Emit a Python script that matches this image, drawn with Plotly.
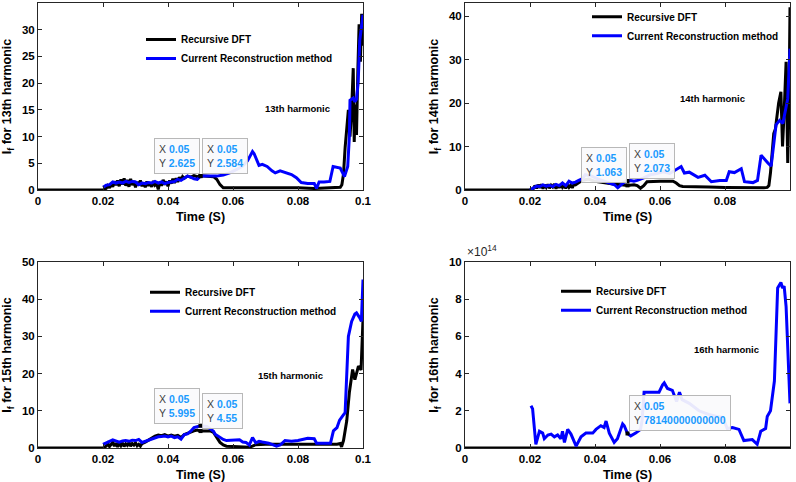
import plotly.graph_objects as go

# ---------------- DATA ----------------
# 13th harmonic
t13_rdft = [0, 0.02, 0.021, 0.0215, 0.022, 0.0225, 0.023, 0.0235, 0.024, 0.0245, 0.025, 0.0255, 0.026, 0.0265,
            0.027, 0.0275, 0.028, 0.0285, 0.029, 0.0295, 0.03, 0.0305, 0.031, 0.0315, 0.032, 0.0325, 0.033, 0.0335,
            0.034, 0.0345, 0.035, 0.0355, 0.036, 0.0365, 0.037, 0.0375, 0.038, 0.0385, 0.039, 0.0395, 0.04, 0.0405,
            0.041, 0.0415, 0.042, 0.0425, 0.043, 0.0435, 0.044, 0.0445, 0.045, 0.046, 0.047, 0.048, 0.049, 0.05,
            0.051, 0.052, 0.053, 0.054, 0.055, 0.056, 0.057, 0.058, 0.06, 0.065, 0.07, 0.075, 0.08, 0.085, 0.09,
            0.092, 0.093, 0.0935, 0.094, 0.0945, 0.095, 0.0955, 0.096, 0.0965, 0.097, 0.0973, 0.0976, 0.098,
            0.0984, 0.0988, 0.0992, 0.0996, 0.1]
v13_rdft = [0, 0, 0.3, 0.8, 0.4, 1.2, 0.6, 1.6, 0.9, 1.8, 0.7, 2.0, 1.0, 2.2,
            0.8, 1.9, 0.6, 2.1, 0.9, 1.7, 0.5, 1.5, 0.9, 1.8, 0.7, 1.4, 0.5, 1.6,
            0.8, 1.3, 0.6, 1.7, 0.9, 1.2, 0.1, 1.5, 0.8, 1.9, 1.0, 1.6, 0.7, 1.8,
            1.2, 2.1, 1.3, 2.2, 1.5, 2.4, 1.8, 2.5, 2.2, 2.6, 2.4, 2.7, 2.5, 2.625,
            2.6, 2.6, 2.6, 2.5, 2.0, 1.0, 0.4, 0.4, 0.5, 0.5, 0.4, 0.5, 0.4, 0.3, 0.4,
            0.4, 0.5, 1.0, 3, 8, 12, 15, 10, 15, 22.8, 9, 16, 10.3,
            22, 31, 24, 33, 27]
t13_crm = [0.02, 0.021, 0.022, 0.023, 0.024, 0.025, 0.026, 0.027, 0.028, 0.029, 0.03, 0.031, 0.032, 0.033,
           0.034, 0.035, 0.036, 0.037, 0.038, 0.039, 0.04, 0.041, 0.042, 0.043, 0.044, 0.045, 0.046, 0.047,
           0.048, 0.049, 0.05, 0.051, 0.053, 0.055, 0.057, 0.059, 0.061, 0.063, 0.0645, 0.066, 0.0665, 0.068,
           0.069, 0.0705, 0.072, 0.073, 0.0745, 0.076, 0.078, 0.0795, 0.081, 0.083, 0.085, 0.0857, 0.0865,
           0.088, 0.0898, 0.0908, 0.092, 0.093, 0.0943, 0.0953, 0.0958, 0.096, 0.097, 0.0975, 0.098, 0.0985,
           0.099, 0.0995, 0.1]
v13_crm = [0.5, 0.9, 1.0, 1.5, 1.3, 1.5, 1.3, 1.6, 1.4, 1.6, 1.5, 1.0, 1.3, 1.2,
           1.4, 1.3, 1.6, 1.3, 1.5, 1.2, 1.4, 1.5, 1.6, 2.0, 1.8, 2.2, 2.6, 2.4,
           2.1, 2.0, 2.584, 2.6, 2.6, 2.6, 2.8, 3.2, 3.8, 4.5, 5.5, 7.2, 6.8, 4.6,
           4.8, 4.4, 3.6, 3.2, 3.6, 3.3, 2.9, 2.3, 1.4, 1.2, 1.2, 0.3, 1.5,
           1.5, 1.6, 4.4, 4.2, 4.1, 2.5, 4.4, 10, 16.8, 17.2, 16.5, 17, 20,
           28, 30, 32.8]

# 14th harmonic
t14_rdft = [0, 0.02, 0.021, 0.0215, 0.022, 0.0225, 0.023, 0.0235, 0.024, 0.0245, 0.025, 0.0255, 0.026, 0.0265,
            0.027, 0.0275, 0.028, 0.0285, 0.029, 0.0295, 0.03, 0.0305, 0.031, 0.0315, 0.032, 0.0325, 0.033, 0.0335,
            0.034, 0.035, 0.036, 0.038, 0.04, 0.042, 0.044, 0.046, 0.048, 0.05, 0.052, 0.053, 0.054, 0.055, 0.056,
            0.058, 0.06, 0.062, 0.064, 0.065, 0.066, 0.067, 0.07, 0.075, 0.08, 0.085, 0.09, 0.092, 0.093, 0.0935,
            0.094, 0.0945, 0.095, 0.0955, 0.0958, 0.0965, 0.0972, 0.0977, 0.0982, 0.0988, 0.0993, 0.0997, 0.1]
v14_rdft = [0, 0, 0.3, 1.0, 0.4, 1.2, 0.5, 1.3, 0.3, 1.2, 0.6, 1.3, 0.4, 1.1,
            0.7, 1.4, 0.3, 1.2, 0.5, 1.3, 0.6, 1.0, 0.4, 1.2, 0.6, 1.1, 0.5, 1.3,
            1.2, 1.8, 2.2, 2.5, 2.0, 1.8, 1.5, 1.3, 1.2, 1.063, 1.2, 1.0, 0.4, 1.0, 1.9,
            2.0, 2.0, 2.0, 2.0, 1.6, 1.0, 0.8, 0.8, 0.7, 0.6, 0.5, 0.5, 0.5, 0.6, 1.0,
            4, 9, 13, 14, 16, 20, 22.6, 10, 18, 29.5, 6.2, 20, 42]
t14_crm = [0.02, 0.021, 0.022, 0.023, 0.024, 0.025, 0.026, 0.027, 0.028, 0.029, 0.03, 0.031, 0.032, 0.033,
           0.034, 0.035, 0.0362, 0.037, 0.039, 0.041, 0.043, 0.045, 0.046, 0.047, 0.048, 0.049, 0.05, 0.051,
           0.052, 0.053, 0.055, 0.057, 0.059, 0.061, 0.063, 0.0649, 0.0665, 0.0675, 0.069, 0.0717, 0.0738,
           0.0758, 0.0784, 0.0804, 0.0813, 0.0829, 0.085, 0.086, 0.0886, 0.09, 0.0911, 0.0932, 0.0942, 0.0957,
           0.0968, 0.0978, 0.0993, 0.1]
v14_crm = [0, 0.5, 0.9, 0.8, 1.2, 0.9, 1.1, 0.8, 1.3, 1.0, 1.6, 1.0, 2.0, 1.6,
           1.8, 2.2, 2.6, 3.5, 3.2, 2.5, 2.0, 1.5, 1.2, 0.5, 1.2, 1.8, 2.073, 2.2,
           2.0, 2.2, 2.8, 3.5, 3.8, 4.2, 3.8, 4.6, 5.4, 3.9, 4.1, 2.9, 3.4,
           1.9, 2.2, 2.2, 4.2, 4.0, 4.9, 1.9, 1.7, 2.2, 8.0, 6.2, 5.5, 15,
           16, 15.3, 21, 32.5]

# 15th harmonic
t15_rdft = [0, 0.02, 0.021, 0.0215, 0.022, 0.0225, 0.023, 0.0235, 0.024, 0.0245, 0.025, 0.0255, 0.026, 0.0265,
            0.027, 0.0275, 0.028, 0.0285, 0.029, 0.0295, 0.03, 0.0305, 0.031, 0.0315, 0.032, 0.033, 0.034, 0.035,
            0.036, 0.037, 0.038, 0.039, 0.04, 0.041, 0.042, 0.043, 0.044, 0.045, 0.046, 0.047, 0.048, 0.049, 0.05,
            0.051, 0.052, 0.053, 0.054, 0.055, 0.056, 0.057, 0.058, 0.06, 0.062, 0.064, 0.065, 0.066, 0.067, 0.07,
            0.075, 0.08, 0.085, 0.09, 0.092, 0.093, 0.0934, 0.094, 0.095, 0.0958, 0.0968, 0.0975, 0.0986, 0.0994, 0.1]
v15_rdft = [0, 0, 0.5, 1.2, 0.4, 1.0, 1.5, 0.5, 1.3, 0.3, 1.2, 0.6, 1.4, 0.4,
            1.1, 0.7, 1.5, 0.5, 1.2, 0.8, 1.4, 0.6, 1.0, 0.5, 1.2, 1.6, 2.2, 2.8,
            3.2, 3.5, 3.3, 3.6, 3.2, 3.5, 3.2, 3.4, 2.8, 3.6, 4.0, 4.3, 4.6, 4.8, 4.55,
            4.6, 4.5, 4.6, 4.2, 3.0, 1.5, 0.8, 0.5, 0.4, 0.4, 0.3, 0.2, 0.5, 0.9, 1.0,
            1.0, 0.9, 1.0, 1.0, 1.0, 1.2, 0.3, 2, 7.3, 14.9, 21.1, 18.4, 22, 21, 34.6]
t15_crm = [0.02, 0.021, 0.022, 0.023, 0.024, 0.025, 0.026, 0.027, 0.028, 0.029, 0.03, 0.031, 0.032, 0.033,
           0.034, 0.035, 0.036, 0.037, 0.038, 0.039, 0.04, 0.041, 0.042, 0.043, 0.044, 0.045, 0.046, 0.047,
           0.048, 0.049, 0.05, 0.052, 0.054, 0.0545, 0.056, 0.057, 0.058, 0.06, 0.062, 0.063, 0.064, 0.065,
           0.066, 0.067, 0.068, 0.069, 0.071, 0.0734, 0.0745, 0.076, 0.078, 0.08, 0.082, 0.083, 0.085, 0.0857,
           0.09, 0.0909, 0.092, 0.0928, 0.0938, 0.0945, 0.0955, 0.0965, 0.0975, 0.098, 0.099, 0.0995, 0.1]
v15_crm = [1.0, 1.5, 1.8, 2.2, 2.0, 1.6, 1.9, 2.0, 1.8, 2.1, 2.0, 2.3, 1.5, 1.8,
           2.3, 2.6, 2.9, 3.0, 3.1, 3.2, 3.0, 3.2, 2.8, 3.0, 2.4, 3.6, 3.8, 4.5,
           5.5, 5.8, 5.995, 5.8, 4.5, 3.7, 2.8, 2.3, 2.0, 2.1, 2.2, 1.6, 1.5, 0.8,
           2.8, 1.4, 1.8, 1.6, 1.3, 0.5, 0.8, 2.0, 1.8, 2.0, 2.3, 2.6, 2.5, 1.3,
           1.3, 4.6, 5.5, 7.5, 8.7, 9.5, 30, 34, 36, 36.3, 35, 34, 45.3]

# 16th harmonic (values in units of 1e14)
t16_rdft = [0, 0.02, 0.05, 0.1]
v16_rdft = [0, 0, 0, 0]
t16_crm = [0.0203, 0.0208, 0.0218, 0.0229, 0.0239, 0.0244, 0.0255, 0.0265, 0.0275, 0.0285, 0.0295, 0.03,
           0.0306, 0.0316, 0.0326, 0.0342, 0.0357, 0.0372, 0.0393, 0.0403, 0.0418, 0.0428, 0.0434, 0.0444,
           0.0459, 0.0469, 0.0485, 0.049, 0.05, 0.051, 0.0525, 0.054, 0.0545, 0.0551, 0.0577, 0.0597, 0.0608,
           0.0613, 0.0623, 0.0638, 0.0651, 0.066, 0.0668, 0.069, 0.072, 0.075, 0.0775, 0.0793, 0.0807, 0.0823,
           0.0843, 0.0858, 0.0884, 0.0899, 0.091, 0.0925, 0.093, 0.094, 0.0952, 0.0962, 0.0972, 0.0977, 0.0982,
           0.0988, 0.1]
v16_crm = [2.27, 2.1, 0.2, 0.9, 0.8, 0.5, 0.7, 0.75, 0.6, 0.7, 0.5, 0.9,
           0.3, 1.0, 0.75, 0.1, 0.6, 0.8, 0.8, 1.0, 1.2, 1.1, 1.45, 0.8,
           0.3, 0.5, 1.3, 1.2, 0.7814, 0.65, 0.8, 1.0, 1.5, 3.0, 3.0, 3.0, 3.4,
           3.5, 3.2, 3.1, 2.5, 3.0, 2.6, 2.4, 2.0, 1.8, 1.7, 1.65, 1.05, 1.1,
           1.0, 0.4, 0.45, 0.2, 0.9, 1.05, 1.7, 2.0, 3.6, 8.6, 8.9, 8.6, 8.7,
           7.6, 2.4]

harmonic_labels = ["13th harmonic", "14th harmonic", "15th harmonic", "16th harmonic"]
y_titles = ["I<sub>f</sub> for 13th harmonic", "I<sub>f</sub> for 14th harmonic",
            "I<sub>f</sub> for 15th harmonic", "I<sub>f</sub> for 16th harmonic"]
y_ranges = [[0, 35], [0, 43], [0, 50], [0, 10]]
y_dticks = [5, 10, 10, 2]
x_ticks = [0, 0.02, 0.04, 0.06, 0.08, 0.1]
x_ticklabels = ["0", "0.02", "0.04", "0.06", "0.08", "0.1"]

# datatips: (panel, y value, shown label, side of the point the box sits on)
tip_x = 0.05
tips = [
    (0, 2.625, "2.625", "left"), (0, 2.584, "2.584", "right"),
    (1, 1.063, "1.063", "left"), (1, 2.073, "2.073", "right"),
    (2, 5.995, "5.995", "left"), (2, 4.55, "4.55", "right"),
    (3, 0.7814, "78140000000000", "right"),
]

series = [
    (t13_rdft, v13_rdft, t13_crm, v13_crm),
    (t14_rdft, v14_rdft, t14_crm, v14_crm),
    (t15_rdft, v15_rdft, t15_crm, v15_crm),
    (t16_rdft, v16_rdft, t16_crm, v16_crm),
]

# ---------------- LAYOUT ----------------
W, H = 796, 482
FONT = "Liberation Sans, Arial, Helvetica, sans-serif"
AX = "#262626"

x_domains = [[38 / W, 363 / W], [465 / W, 790 / W], [38 / W, 363 / W], [465 / W, 790 / W]]
y_domains = [[1 - 190 / H, 1 - 3 / H], [1 - 190 / H, 1 - 3 / H], [1 - 448 / H, 1 - 262 / H], [1 - 448 / H, 1 - 262 / H]]
legend_pos = [(141, 49), (587, 26.3), (145, 301.8), (556, 300.7)]
label_pos = [(0.0798, 15.3), (0.0763, 21.1), (0.0778, 19.6), (0.0805, 5.3)]

fig = go.Figure()

for i, (tb, vb, tc, vc) in enumerate(series):
    xa = "x" if i == 0 else f"x{i+1}"
    ya = "y" if i == 0 else f"y{i+1}"
    lg = "legend" if i == 0 else f"legend{i+1}"
    fig.add_trace(go.Scatter(x=tb, y=vb, mode="lines", name="Recursive DFT",
                             line=dict(color="#000000", width=3), xaxis=xa, yaxis=ya, legend=lg))
    fig.add_trace(go.Scatter(x=tc, y=vc, mode="lines", name="Current Reconstruction method",
                             line=dict(color="#0000ff", width=3), xaxis=xa, yaxis=ya, legend=lg))

# datatip points
for (p, yv, txt, side) in tips:
    xa = "x" if p == 0 else f"x{p+1}"
    ya = "y" if p == 0 else f"y{p+1}"
    fig.add_trace(go.Scatter(x=[tip_x], y=[yv], mode="markers", showlegend=False,
                             marker=dict(color="#000000", size=4, symbol="square"),
                             xaxis=xa, yaxis=ya))

layout = dict(
    width=W, height=H,
    margin=dict(l=0, r=0, t=0, b=0),
    paper_bgcolor="white", plot_bgcolor="white",
    font=dict(family=FONT, color="#000000"),
    showlegend=True,
)

for i in range(4):
    xk = "xaxis" if i == 0 else f"xaxis{i+1}"
    yk = "yaxis" if i == 0 else f"yaxis{i+1}"
    ya = "y" if i == 0 else f"y{i+1}"
    xa = "x" if i == 0 else f"x{i+1}"
    layout[xk] = dict(
        domain=x_domains[i], anchor=ya, range=[0, 0.1],
        tickvals=x_ticks, ticktext=x_ticklabels,
        ticks="inside", ticklen=4, tickwidth=1, tickcolor=AX,
        showline=True, linecolor=AX, linewidth=1, mirror="ticks",
        showgrid=False, zeroline=False, automargin=False,
        tickfont=dict(family=FONT, size=11.5, color="#000000", weight="bold"),
        title=dict(text="Time (S)", font=dict(family=FONT, size=12.5, color="#000000", weight="bold"), standoff=6),
    )
    layout[yk] = dict(
        domain=y_domains[i], anchor=xa, range=y_ranges[i], dtick=y_dticks[i], tick0=0,
        ticks="inside", ticklen=4, tickwidth=1, tickcolor=AX,
        showline=True, linecolor=AX, linewidth=1, mirror="ticks",
        showgrid=False, zeroline=False, automargin=False,
        tickfont=dict(family=FONT, size=11.5, color="#000000", weight="bold"),
        title=dict(text=y_titles[i], font=dict(family=FONT, size=12.5, color="#000000", weight="bold"), standoff=7),
    )
    lk = "legend" if i == 0 else f"legend{i+1}"
    lx, ly = legend_pos[i]
    layout[lk] = dict(
        x=lx / W, y=1 - ly / H, xanchor="left", yanchor="middle",
        xref="paper", yref="paper",
        bgcolor="rgba(0,0,0,0)", borderwidth=0,
        font=dict(family=FONT, size=10, color="#000000", weight="bold"),
    )

annotations = []
for i in range(4):
    xa = "x" if i == 0 else f"x{i+1}"
    ya = "y" if i == 0 else f"y{i+1}"
    annotations.append(dict(
        x=label_pos[i][0], y=label_pos[i][1], xref=xa, yref=ya, text=harmonic_labels[i],
        showarrow=False, xanchor="center", yanchor="middle",
        font=dict(family=FONT, size=9.5, color="#000000", weight="bold"),
    ))

BLUE = "#1a9bff"
for (p, yv, txt, side) in tips:
    xa = "x" if p == 0 else f"x{p+1}"
    ya = "y" if p == 0 else f"y{p+1}"
    text = (f"X <span style='color:{BLUE}'><b>0.05</b></span><br>"
            f"Y <span style='color:{BLUE}'><b>{txt}</b></span>")
    annotations.append(dict(
        x=tip_x, y=yv, xref=xa, yref=ya, text=text, showarrow=False,
        xanchor="right" if side == "left" else "left", yanchor="bottom",
        xshift=-1 if side == "left" else 1, yshift=2,
        align="left", bgcolor="rgba(250,250,252,0.93)", bordercolor="#b8b8b8",
        borderwidth=1, borderpad=4,
        font=dict(family=FONT, size=10.5, color="#404040"),
    ))

# exponent label for 16th harmonic axis
annotations.append(dict(
    x=x_domains[3][0], y=y_domains[3][1], xref="paper", yref="paper",
    text="×10<sup>14</sup>", showarrow=False, xanchor="left", yanchor="bottom", yshift=1,
    font=dict(family=FONT, size=12, color="#262626"),
))

layout["annotations"] = annotations
fig.update_layout(**layout)
fig.write_html("out.html")
